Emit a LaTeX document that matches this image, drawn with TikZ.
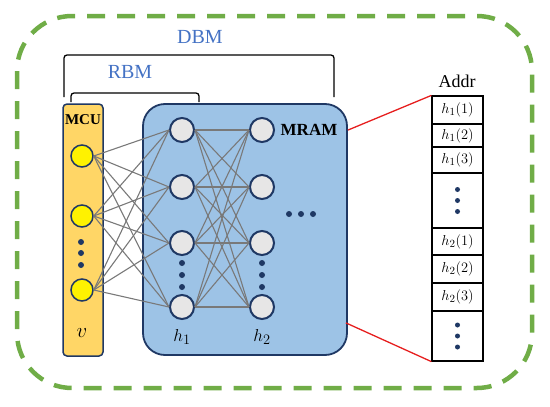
\documentclass[tikz,border=0pt]{standalone}
\usepackage{fontspec}
\setmainfont{Liberation Serif}
\usetikzlibrary{calc}
\definecolor{dashgreen}{RGB}{112,173,71}
\definecolor{labelblue}{RGB}{68,114,196}
\definecolor{mcufill}{RGB}{255,214,102}
\definecolor{mramfill}{RGB}{157,195,230}
\definecolor{edgenavy}{RGB}{31,56,100}
\definecolor{cellgray}{RGB}{231,230,230}
\definecolor{linkred}{RGB}{230,30,30}

\begin{document}
\begin{tikzpicture}[x=1pt,y=-1pt,
    bracket/.style={line width=1.3pt,rounded corners=3pt},
    tag/.style={text=labelblue,font=\fontsize{20}{22}\selectfont},
    visible/.style={circle,draw=edgenavy,line width=1.5pt,fill=yellow,minimum size=22pt,inner sep=0pt},
    hidden/.style={circle,draw=edgenavy,line width=2pt,fill=cellgray,minimum size=24pt,inner sep=0pt},
    link/.style={gray!95!black,line width=1.1pt},
    cell/.style={draw,line width=1.2pt,minimum width=51pt,inner sep=0pt,font=\fontsize{15}{17}\selectfont},
    dotfill/.style={fill=edgenavy}]
    \useasboundingbox (0,0) rectangle (550,407);
    % outer dashed frame
    \draw[dashgreen,line width=4.5pt,dash pattern=on 18pt off 12pt,rounded corners=55pt] (17,16) rectangle (532,388);
    % brackets and their labels
    \draw[bracket] (64,97) -- (64,55) -- (334,55) -- (334,97);
    \draw[bracket] (71,102) -- (71,93) -- (199,93) -- (199,102);
    \node[tag] (dbm) at (200,37) {DBM};
    \node[tag] (rbm) at (130,72) {RBM};
    % boxes
    \node[draw=edgenavy,line width=1.5pt,fill=mcufill,rounded corners=4pt,minimum width=40pt,minimum height=252pt] (mcu) at (83,230) {};
    \node[draw=edgenavy,line width=1.8pt,fill=mramfill,rounded corners=22pt,minimum width=204pt,minimum height=251pt] (mram) at (245,229.5) {};
    \node[font=\bfseries\fontsize{15}{17}\selectfont] (mcutext) at (83,120) {MCU};
    \node[font=\bfseries\fontsize{17}{19}\selectfont] (mramtext) at (309,130) {MRAM};
    % units
    \foreach \i/\y in {1/156,2/216,3/290}
        \node[visible] (v\i) at (82,\y) {};
    \foreach \i/\y in {1/130,2/187,3/243,4/307} {
        \node[hidden] (p\i) at (182,\y) {};
        \node[hidden] (q\i) at (262,\y) {};
    }
    \foreach \i in {1,2,3}
        \foreach \j in {1,...,4}
            \draw[link] (v\i.east) -- (p\j.west);
    \foreach \i in {1,...,4}
        \foreach \j in {1,...,4}
            \draw[link] (p\i.east) -- (q\j.west);
    % dots
    \foreach \y in {242,253,265}
        \fill[dotfill] (81,\y) circle (3pt);
    \foreach \y in {263,275,287} {
        \fill[dotfill] (182,\y) circle (3pt);
        \fill[dotfill] (262,\y) circle (3pt);
    }
    \foreach \x in {289,301,313}
        \fill[dotfill] (\x,214) circle (3pt);
    \node[font=\fontsize{20}{22}\selectfont] (vlab) at (82,333) {$v$};
    \node[font=\fontsize{19}{21}\selectfont] (h1lab) at (182,337) {$h_1$};
    \node[font=\fontsize{19}{21}\selectfont] (h2lab) at (262,337) {$h_2$};
    % address table
    \node[font=\fontsize{18}{20}\selectfont] (addr) at (457,81) {Addr};
    \node[cell,minimum height=28pt] (a1) at (457.5,110) {$h_1(1)$};
    \node[cell,minimum height=23pt] (a2) at (457.5,135.5) {$h_1(2)$};
    \node[cell,minimum height=26pt] (a3) at (457.5,160) {$h_1(3)$};
    \node[cell,minimum height=55pt] (a4) at (457.5,200.5) {};
    \node[cell,minimum height=27pt] (a5) at (457.5,241.5) {$h_2(1)$};
    \node[cell,minimum height=28pt] (a6) at (457.5,269) {$h_2(2)$};
    \node[cell,minimum height=28pt] (a7) at (457.5,297) {$h_2(3)$};
    \node[cell,minimum height=50pt] (a8) at (457.5,336) {};
    \foreach \dy in {-11,0,11} {
        \fill[dotfill] ($(a4.center)+(0,\dy)$) circle (2.5pt);
        \fill[dotfill] ($(a8.center)+(0,\dy)$) circle (2.5pt);
    }
    % zoom lines
    \draw[linkred,line width=1.3pt] ($(mram.north east)+(0,27)$) -- (a1.north west);
    \draw[linkred,line width=1.3pt] ($(mram.south east)+(-2,-33)$) -- (a8.south west);
\end{tikzpicture}
\end{document}
